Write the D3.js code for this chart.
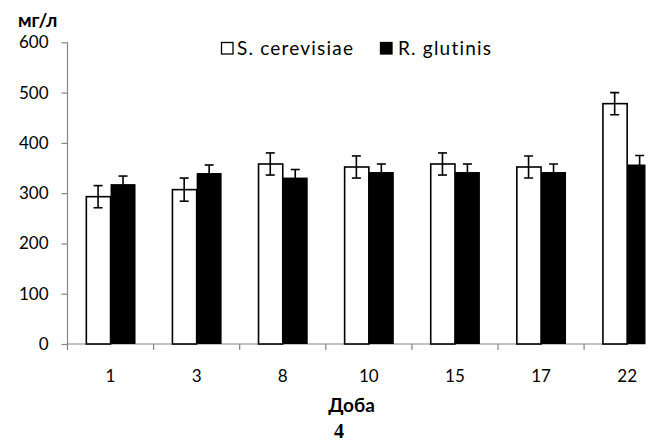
<!DOCTYPE html>
<html>
<head>
<meta charset="utf-8">
<script src="https://cdn.jsdelivr.net/npm/d3@7"></script>
<style>
  html, body { margin: 0; padding: 0; background: #fff; }
  svg { display: block; }
  text { font-family: Lato, "Open Sans", sans-serif; fill: #000; }
</style>
</head>
<body>
<svg id="chart" width="651" height="442"></svg>
<script>
const categories = ["1", "3", "8", "10", "15", "17", "22"];
const seriesNames = ["S. cerevisiae", "R. glutinis"];
const cerevisiae = [293, 307, 358, 352, 358, 352, 478];
const cerevisiaeErr = [22, 23, 22, 22, 22, 22, 22];
const glutinis = [318, 340, 331, 342, 342, 342, 357];
const glutinisErr = [16, 16, 16, 16, 16, 16, 18];
const yTicks = [0, 100, 200, 300, 400, 500, 600];
const yTitle = "мг/л";
const xTitle = "Доба";
const figLabel = "4";

const svg = d3.select("#chart");
const x0 = 67.5, x1 = 670.2, yBottom = 344, yTop = 42.3;

const x = d3.scaleBand().domain(categories).range([x0, x1]).paddingInner(0.42).paddingOuter(0.21);
const xs = d3.scaleBand().domain(seriesNames).range([0, x.bandwidth()]);
const y = d3.scaleLinear().domain([0, 600]).range([yBottom, yTop]);

const data = categories.map((c, i) => ({
  cat: c,
  vals: [
    {s: seriesNames[0], v: cerevisiae[i], e: cerevisiaeErr[i], fill: "#fff"},
    {s: seriesNames[1], v: glutinis[i], e: glutinisErr[i], fill: "#000"}
  ]
}));

svg.append("defs").append("clipPath").attr("id", "clip")
  .append("rect").attr("x", 0).attr("y", 0).attr("width", 645.5).attr("height", 442);

const plot = svg.append("g").attr("clip-path", "url(#clip)");

const axisColor = "#868686";
// y axis
const yAxis = svg.append("g").attr("transform", `translate(${x0},0)`)
  .call(d3.axisLeft(y).tickValues(yTicks).tickSize(6).tickPadding(13).tickFormat(d3.format("d")));
yAxis.select(".domain").attr("stroke", axisColor).attr("stroke-width", 1.2).attr("d", `M0,${yTop}V${yBottom}`);
yAxis.selectAll(".tick line").attr("stroke", axisColor).attr("stroke-width", 1.2);
yAxis.selectAll(".tick text").style("font-size", "17px").style("font-family", "Lato, sans-serif").attr("fill", "#000");

// x axis: line + boundary ticks
const xAxisG = plot.append("g").attr("transform", `translate(0,${yBottom})`);
xAxisG.append("line").attr("x1", x0).attr("x2", x1).attr("y1", 0).attr("y2", 0)
  .attr("stroke", axisColor).attr("stroke-width", 1.2);
const boundaries = categories.map(c => x(c) - x.step() * 0.21);
xAxisG.selectAll("line.bt").data(boundaries).join("line").attr("class", "bt")
  .attr("x1", d => d).attr("x2", d => d).attr("y1", 0).attr("y2", 6)
  .attr("stroke", axisColor).attr("stroke-width", 1.2);
xAxisG.selectAll("text.xl").data(categories).join("text").attr("class", "xl")
  .attr("x", d => x(d) + x.bandwidth() / 2).attr("y", 38)
  .attr("text-anchor", "middle").style("font-size", "17px").text(d => d);

// bars
const groups = plot.selectAll("g.grp").data(data).join("g").attr("class", "grp")
  .attr("transform", d => `translate(${x(d.cat)},0)`);
groups.selectAll("rect").data(d => d.vals).join("rect")
  .attr("x", d => xs(d.s) + (d.fill === "#fff" ? 0.75 : 0))
  .attr("y", d => y(d.v))
  .attr("width", d => xs.bandwidth() - (d.fill === "#fff" ? 0.75 : 0))
  .attr("height", d => yBottom - y(d.v))
  .attr("fill", d => d.fill)
  .attr("stroke", "#000").attr("stroke-width", d => d.fill === "#fff" ? 1.6 : 0);

// error bars
const cap = 4.5;
groups.selectAll("g.err").data(d => d.vals).join("g").attr("class", "err")
  .each(function(d) {
    const g = d3.select(this);
    const cx = xs(d.s) + xs.bandwidth() / 2;
    g.append("line").attr("x1", cx).attr("x2", cx).attr("y1", y(d.v + d.e)).attr("y2", y(d.v - d.e));
    g.append("line").attr("x1", cx - cap).attr("x2", cx + cap).attr("y1", y(d.v + d.e)).attr("y2", y(d.v + d.e));
    g.append("line").attr("x1", cx - cap).attr("x2", cx + cap).attr("y1", y(d.v - d.e)).attr("y2", y(d.v - d.e));
  })
  .selectAll("line").attr("stroke", "#000").attr("stroke-width", 1.6);

// legend
const legend = svg.append("g").attr("transform", "translate(221,42)");
const legItems = [
  {name: seriesNames[0], fill: "#fff", x: 0},
  {name: seriesNames[1], fill: "#000", x: 159}
];
legItems.forEach(it => {
  const g = legend.append("g").attr("transform", `translate(${it.x},0)`);
  g.append("rect").attr("x", 0.5).attr("y", 0.5).attr("width", 11.5).attr("height", 11.5)
    .attr("fill", it.fill).attr("stroke", "#000").attr("stroke-width", 1.3);
  g.append("text").attr("x", it.x === 0 ? 16 : 18).attr("y", 12.5)
    .style("font-size", "19px").style("letter-spacing", "1.2px").text(it.name);
});

// titles
svg.append("text").attr("x", 18).attr("y", 27).style("font-size", "19px").style("font-weight", "bold").text(yTitle);
svg.append("text").attr("x", 351.5).attr("y", 412).attr("text-anchor", "middle")
  .style("font-size", "19px").style("font-weight", "bold").text(xTitle);
svg.append("text").attr("x", 339).attr("y", 438).attr("text-anchor", "middle")
  .style("font-size", "20px").style("font-weight", "bold").style("font-family", "'Liberation Serif', 'Times New Roman', serif").text(figLabel);
</script>
</body>
</html>
